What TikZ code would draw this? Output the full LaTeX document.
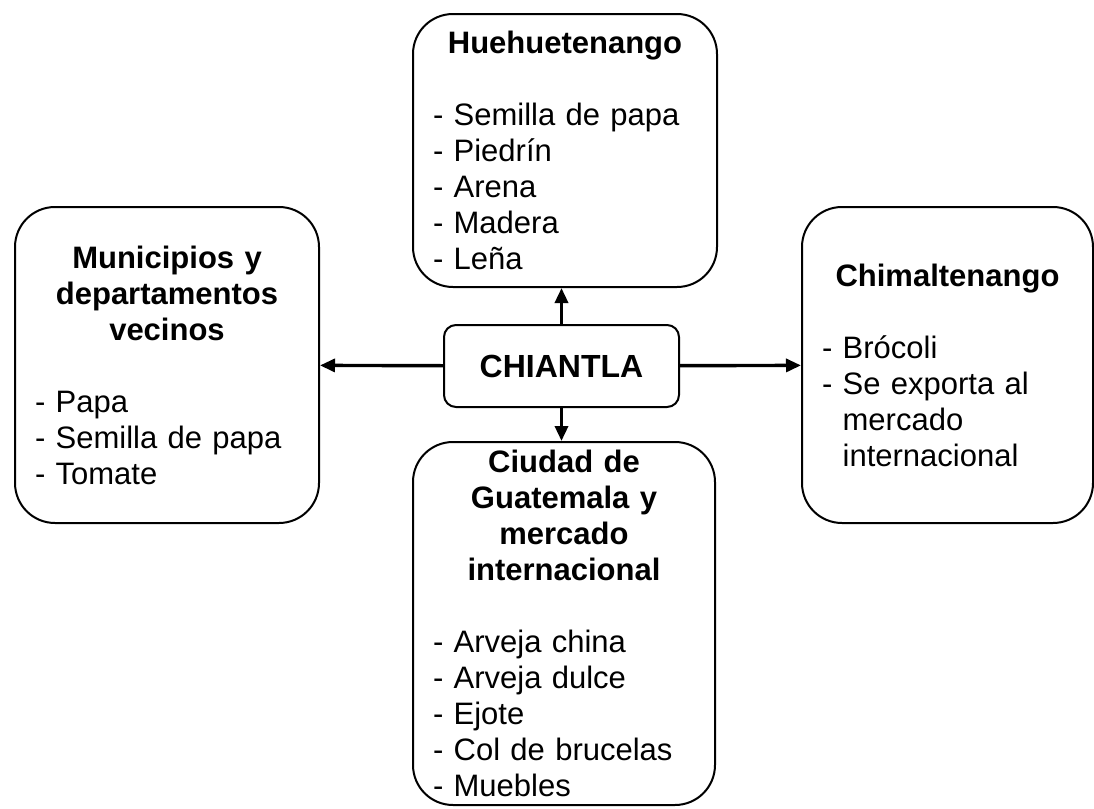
\documentclass[tikz,border=0pt]{standalone}
\usepackage{fontspec}
\setmainfont{Liberation Sans}
\usetikzlibrary{arrows.meta}

\begin{document}
\begin{tikzpicture}[x=0.5pt, y=-0.5pt,
	region/.style={draw, line width=1pt, rounded corners=20pt, align=left,
		inner xsep=10pt, inner ysep=0pt, font=\fontsize{15.5}{18}\selectfont},
	origin/.style={draw, line width=1pt, rounded corners=6pt,
		minimum width=117.5pt, minimum height=41pt,
		font=\bfseries\fontsize{16}{18}\selectfont},
	link/.style={-{Triangle[length=7.5pt,width=6.5pt]}, line width=1.7pt}]
	\useasboundingbox (0,0) rectangle (1094,809);
	% Draw the regions
	\node[region, text width=132pt, minimum height=136.5pt] (hue) at (565,150.5)
		{{\centering\bfseries Huehuetenango\par}\vspace{18pt}
		- Semilla de papa\\- Piedrín\\- Arena\\- Madera\\- Leña};
	\node[region, text width=132pt, minimum height=158pt] (muni) at (167,365)
		{{\centering\bfseries Municipios y\\departamentos\\vecinos\par}\vspace{18pt}
		- Papa\\- Semilla de papa\\- Tomate};
	\node[region, text width=125.5pt, minimum height=158pt] (chimal) at (947.5,365)
		{{\centering\bfseries Chimaltenango\par}\vspace{18pt}
		- Brócoli\\- Se exporta al\\\phantom{- }mercado\\\phantom{- }internacional};
	\node[region, text width=131pt, minimum height=181.5pt] (ciudad) at (564,623.5)
		{{\centering\bfseries Ciudad de\\Guatemala y\\mercado\\internacional\par}\vspace{18pt}
		- Arveja china\\- Arveja dulce\\- Ejote\\- Col de brucelas\\- Muebles};
	\node[origin] (chiantla) at (561.5,366) {CHIANTLA};
	% Connect the origin with the regions
	\path
		(chiantla) edge[link] (muni)
		(chiantla) edge[link] (chimal)
		(chiantla.north) edge[link] (chiantla.north |- hue.south)
		(chiantla.south) edge[link] (chiantla.south |- ciudad.north);
\end{tikzpicture}
\end{document}
